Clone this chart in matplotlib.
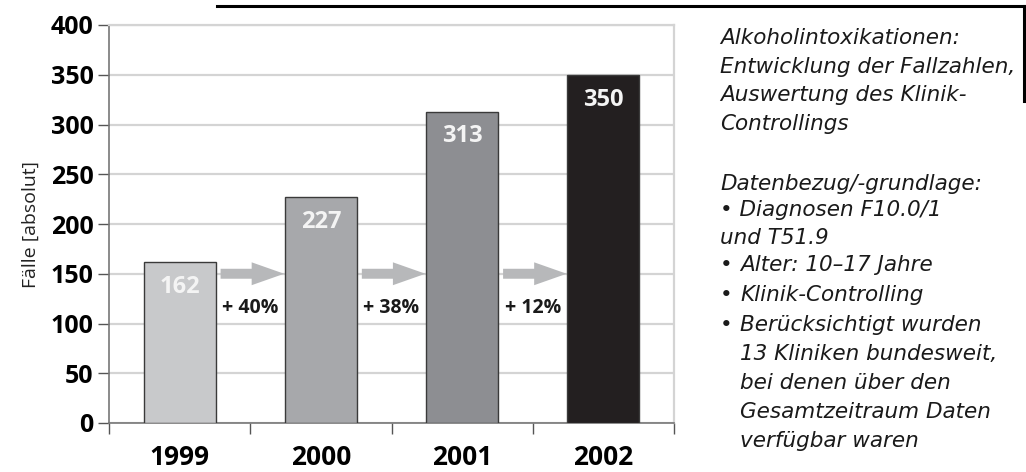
import matplotlib
matplotlib.use("Agg")
import matplotlib.pyplot as plt
from matplotlib.patches import FancyArrow
from matplotlib.lines import Line2D

years = ["1999", "2000", "2001", "2002"]
cases = [162, 227, 313, 350]
changes = ["+ 40%", "+ 38%", "+ 12%"]
bar_colors = ["#c8c9cb", "#a7a8ab", "#8d8e92", "#231f20"]
yticks = [0, 50, 100, 150, 200, 250, 300, 350, 400]

title_lines = [
    ("Alkoholintoxikationen:", 0, 38),
    ("Entwicklung der Fallzahlen,", 0, 67),
    ("Auswertung des Klinik-", 0, 95),
    ("Controllings", 0, 124),
    ("Datenbezug/-grundlage:", 0, 184),
    ("\u2022 Diagnosen F10.0/1", 0, 210),
    ("und T51.9", 0, 238),
    ("\u2022", 0, 265),
    ("Alter: 10\u201317 Jahre", 1, 265),
    ("\u2022", 0, 295),
    ("Klinik-Controlling", 1, 295),
    ("\u2022", 0, 325),
    ("Berücksichtigt wurden", 1, 325),
    ("13 Kliniken bundesweit,", 1, 354),
    ("bei denen über den", 1, 383),
    ("Gesamtzeitraum Daten", 1, 412),
    ("verfügbar waren", 1, 441),
]

W, H = 1026, 472
fig = plt.figure(figsize=(W / 100, H / 100), dpi=100)
ax = fig.add_axes([109 / W, 1 - 423 / H, (674 - 109) / W, (423 - 25) / H])

font = "Open Sans"
x = list(range(len(years)))
bw = 0.51
ax.bar(x, cases, width=bw, color=bar_colors, edgecolor="#3a3a3a", linewidth=1.0, zorder=3)

for xi, v in zip(x, cases):
    ax.text(xi, v - 25, str(v), ha="center", va="center", color="#f4f4f4",
            fontsize=17, fontweight="bold", family=font, zorder=4)

for i, lab in enumerate(changes):
    x0 = i + bw / 2 + 0.035
    x1 = i + 1 - bw / 2 - 0.005
    ax.add_patch(FancyArrow(x0, 150, x1 - x0, 0, width=10, head_width=23,
                            head_length=0.23, length_includes_head=True,
                            color="#b7b8ba", lw=0, zorder=3))
    ax.text(i + 0.5, 116, lab, ha="center", va="center", fontsize=14,
            fontweight="bold", family=font, color="#1a1a1a", zorder=4)

ax.set_xlim(-0.5, 3.5)
ax.set_ylim(0, 400)
ax.set_yticks(yticks)
ax.set_yticklabels([str(t) for t in yticks], fontsize=18, fontweight="bold", family=font)
ax.set_xticks([-0.5, 0.5, 1.5, 2.5, 3.5])
ax.set_xticklabels([])
ax.set_xticks(x, minor=True)
ax.set_xticklabels(years, minor=True, fontsize=19, fontweight="bold", family=font)
ax.tick_params(axis="x", which="minor", length=0, pad=15)
ax.tick_params(axis="x", which="major", length=8, width=1, color="#555555", direction="out")
ax.tick_params(axis="y", length=8, width=1, color="#555555", direction="out", pad=3)
ax.grid(axis="y", color="#d4d4d4", linewidth=1.6, zorder=0)
for s in ["top", "right"]:
    ax.spines[s].set_color("#d4d4d4")
    ax.spines[s].set_linewidth(1.6)
for s in ["left", "bottom"]:
    ax.spines[s].set_color("#777777")
    ax.spines[s].set_linewidth(1.2)
ax.set_ylabel("Fälle [absolut]", fontsize=14, family=font, color="#222222", labelpad=8)

# frame line top-right
fig.add_artist(Line2D([217 / W, 1024 / W], [1 - 6 / H, 1 - 6 / H], color="black", lw=2.2))
fig.add_artist(Line2D([1024 / W, 1024 / W], [1 - 6 / H, 1 - 101 / H], color="black", lw=2.2))

for txt, indent, yy in title_lines:
    xx = 720 if indent == 0 else 740
    fig.text(xx / W, 1 - yy / H, txt, ha="left", va="center", fontsize=15.5,
             style="italic", family="DejaVu Sans", color="#1a1a1a")

fig.savefig("out.png", dpi=100)
